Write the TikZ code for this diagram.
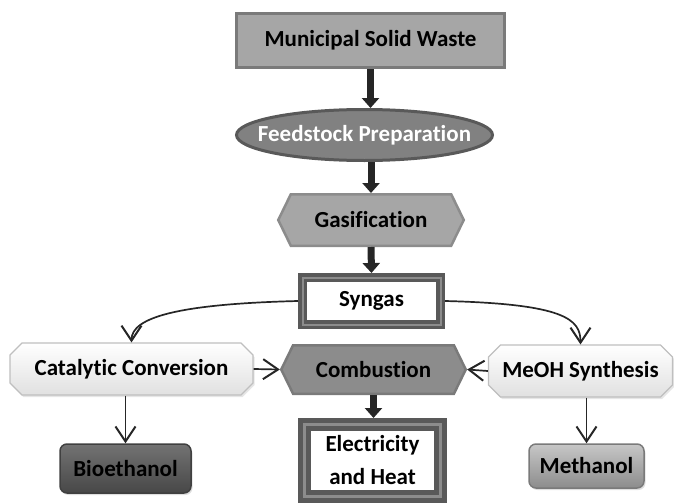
\documentclass[tikz,border=0pt]{standalone}
\usepackage{fontspec}
\setmainfont{Carlito}[Ligatures=NoCommon]
\usetikzlibrary{positioning,calc,shapes.geometric,shapes.misc,shapes.symbols,arrows.meta,shadows}
\definecolor{cInk}{HTML}{262626}
\definecolor{cDark}{HTML}{595959}
\definecolor{cMid}{HTML}{8C8C8C}
\definecolor{cGrey}{HTML}{A6A6A6}
\definecolor{cRim}{HTML}{7A7A7A}
\definecolor{cPale}{HTML}{BFBFBF}
\tikzset{
  lbl/.style={font=\fontsize{23}{33}\selectfont\bfseries,text=black,inner sep=0pt},
  srcbox/.style={lbl,rectangle,draw=cRim,fill=cGrey,line width=3pt,minimum width=268pt,minimum height=54pt},
  prepell/.style={lbl,ellipse,draw=cDark,fill=cMid!92!black,text=white,line width=3pt,minimum width=256pt,minimum height=51pt},
  hexa/.style={lbl,signal,signal to=east and west,signal pointer angle=128,line width=2.5pt,minimum height=51.5pt},
  framebox/.style={lbl,rectangle,fill=white,draw=cDark,double=cMid,align=center},
  plaque/.style={lbl,chamfered rectangle,chamfered rectangle xsep=6pt,chamfered rectangle ysep=6pt,draw=cPale,line width=1.2pt,top color=white,bottom color=black!12,minimum height=52pt,drop shadow={opacity=0.2,shadow xshift=1.5pt,shadow yshift=-2pt}},
  prodbox/.style={lbl,rectangle,rounded corners=7pt,line width=1.5pt,drop shadow={opacity=0.25,shadow xshift=1.5pt,shadow yshift=-2pt}},
  bigarr/.style={cInk,line width=7pt,-{Triangle[width=17pt,length=10pt]}},
  thinarr/.style={cInk,line width=1.7pt,-{Straight Barb[width=20pt,length=15pt,line width=2pt]}},
}

\begin{document}
\begin{tikzpicture}[x=1pt,y=1pt]
  \useasboundingbox (0,0) rectangle (674,-503);
  % main column
  \node[srcbox] (msw) at (370.5,-40.5) {Municipal Solid Waste};
  \node[prepell] (feed) at (364.5,-135) {\makebox[0pt]{Feedstock Preparation}};
  \node[hexa,fill=cGrey,draw=cMid,minimum width=185.5pt] (gas) at (371,-220) {Gasification};
  \node[framebox,line width=3.5pt,double distance=2pt,outer sep=4.5pt,minimum width=138pt,minimum height=47pt] (syn) at (371.5,-301) {Syngas};
  \node[hexa,fill=cMid,draw=cRim,minimum width=184.5pt,minimum height=48.5pt] (comb) at (373.5,-369.5) {Combustion};
  \node[framebox,line width=5pt,double distance=3pt,outer sep=6.5pt,minimum width=136pt,minimum height=72pt] (elec) at (372.5,-460.5) {Electricity\\and Heat};
  % side branches
  \node[plaque,minimum width=243pt] (cat) at (131.5,-369) {Catalytic Conversion};
  \node[plaque,minimum width=184pt] (meoh) at (580.5,-371) {MeOH Synthesis};
  \node[prodbox,draw=black!75,top color=black!55,bottom color=black!72,minimum width=131pt,minimum height=49pt] (bio) at (125.5,-468.5) {Bioethanol};
  \node[prodbox,draw=cRim,top color=black!22,bottom color=black!45,minimum width=115pt,minimum height=44pt] (meth) at (586.5,-466) {Methanol};
  % connectors
  \draw[bigarr] (msw.south) -- (msw.south |- feed.north);
  \draw[bigarr] (gas.north |- feed.south) -- (gas.north);
  \draw[bigarr] (gas.south) -- (syn.north);
  \draw[bigarr] (comb.south) -- (comb.south |- elec.north);
  \draw[thinarr] (syn.west) .. controls +(-120,-3) and +(0,25) .. (cat.north);
  \draw[thinarr] (syn.east) .. controls +(120,-3) and +(0,25) .. (meoh.north);
  \draw[thinarr] (cat.east) -- (comb.west);
  \draw[thinarr] (meoh.west) -- (comb.east);
  \draw[thinarr] (cat.south -| bio.north) -- (bio.north);
  \draw[thinarr] (meoh.south -| meth.north) -- (meth.north);
\end{tikzpicture}
\end{document}
